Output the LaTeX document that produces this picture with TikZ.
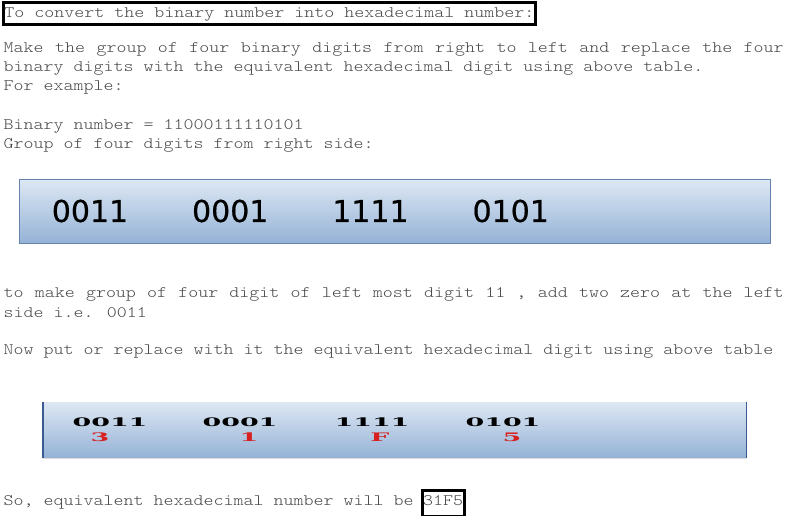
\documentclass[tikz,border=0pt]{standalone}
\usepackage{fontspec}
\usepackage{xcolor}
\usepackage{graphicx}
\usetikzlibrary{positioning}

\newfontfamily\monofont{Latin Modern Mono Light}[FakeStretch=1.19]
\newfontfamily\groupfont{DejaVu Sans}[FakeBold=0.6]
\newfontfamily\hexfont{DejaVu Serif}

\definecolor{bartop}{HTML}{DDE7F3}
\definecolor{barbottom}{HTML}{94B2D6}
\definecolor{barline}{HTML}{6483AD}
\definecolor{barside}{HTML}{3A5B8F}
\definecolor{hexred}{HTML}{D81E1E}

\newcommand{\widebold}[1]{\scalebox{2.3}[1]{\hexfont\bfseries #1}}
% justified full line of the paragraph
\newcommand{\fullline}[1]{\hbox to 780pt{\spaceskip=\fontdimen2\font plus 1fil\relax #1}}

\begin{document}
\begin{tikzpicture}[x=1pt, y=-1pt,
    txt/.style={
      anchor=base west, inner sep=0pt, text=black!72,
      font=\monofont\fontsize{16}{19}\selectfont
    },
    framed/.style={
      txt, draw=black, line width=3pt, inner xsep=1.2pt, inner ysep=1pt
    },
    groupbar/.style={
      anchor=north west, draw=barline, line width=1.2pt,
      top color=bartop, bottom color=barbottom
    },
    hexbar/.style={
      anchor=north west, top color=bartop, bottom color=barbottom
    },
    grp/.style={inner sep=0pt, font=\groupfont\fontsize{30}{32}\selectfont},
    bin/.style={anchor=base, inner sep=0pt, font=\fontsize{11.7}{12}\selectfont},
    hex/.style={bin, text=hexred}
  ]
  \useasboundingbox (0,0) rectangle (792,516);

  % ===== heading and rule =====
  \node[framed, text height=14pt, text depth=5.5pt] (title) at (1.8,18)
    {To convert the binary number into hexadecimal number:};

  \node[txt] (intro1) at (3.5,53)
    {\fullline{Make the group of four binary digits from right to left and replace the four}};
  \node[txt] (intro2) at (3.5,72)
    {binary digits with the equivalent hexadecimal digit using above table.};
  \node[txt] (example) at (3.5,91) {For example:};

  \node[txt] (binnum) at (3.5,129) {Binary number = 11000111110101};
  \node[txt] (grouphdr) at (3.5,149) {Group of four digits from right side:};

  % ===== groups of four =====
  \node[groupbar, minimum width=751pt, minimum height=64pt] (bar) at (19,179) {};
  \node[grp] (g1) at (90,211) {0011};
  \node[grp, right=63.5pt of g1] (g2) {0001};
  \node[grp, right=63.5pt of g2] (g3) {1111};
  \node[grp, right=63.5pt of g3] (g4) {0101};

  % ===== padding note =====
  \node[txt] (pad1) at (3.5,297)
    {\fullline{to make group of four digit of left most digit 11 , add two zero at the left}};
  \node[txt] (pad2) at (3.5,317) {side i.e. 0011};
  \node[txt] (replace) at (3.5,354)
    {Now put or replace with it the equivalent hexadecimal digit using above table};

  % ===== groups with hex digits =====
  \node[hexbar, minimum width=703pt, minimum height=56pt] (hbar) at (43,402) {};
  \draw[barside, line width=1.5pt] (hbar.north west) -- (hbar.south west);
  \draw[barside, line width=1.5pt] (hbar.north east) -- (hbar.south east);
  \draw[gray!30, line width=1pt] (hbar.south west) -- (hbar.south east);

  \node[bin] (b1) at (110,426) {\widebold{0011}};
  \node[bin] (b2) at (240,426) {\widebold{0001}};
  \node[bin] (b3) at (372,426) {\widebold{1111}};
  \node[bin] (b4) at (503,426) {\widebold{0101}};

  \node[hex] (h1) at (100,441) {\widebold{3}};
  \node[hex] (h2) at (249,441) {\widebold{1}};
  \node[hex] (h3) at (380,441) {\widebold{F}};
  \node[hex] (h4) at (512,441) {\widebold{5}};

  % ===== result =====
  \node[txt] (result) at (3.5,505) {So, equivalent hexadecimal number will be};
  \node[framed, text height=13.5pt, text depth=10pt] (answer) at (420.5,505) {31F5};

\end{tikzpicture}
\end{document}
